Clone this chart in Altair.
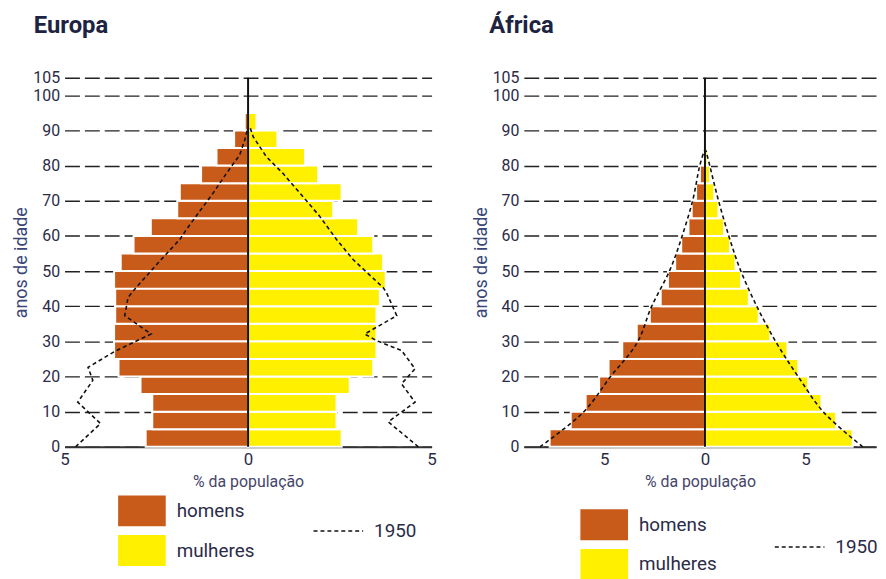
import altair as alt
import pandas as pd

FONT = "Roboto, Lato, sans-serif"
C_H = "#c95b1a"
C_M = "#fff000"

# ---------------- Europa ----------------
eu_age_start = [0, 5, 10, 15, 20, 25, 30, 35, 40, 45, 50, 55, 60, 65, 70, 75, 80, 85, 90]
eu_homens = [2.79, 2.61, 2.61, 2.93, 3.53, 3.65, 3.65, 3.62, 3.62, 3.65, 3.47, 3.12, 2.65, 1.93, 1.86, 1.28, 0.86, 0.38, 0.09]
eu_mulheres = [2.55, 2.41, 2.41, 2.77, 3.41, 3.50, 3.50, 3.50, 3.59, 3.75, 3.68, 3.41, 3.00, 2.32, 2.55, 1.91, 1.55, 0.80, 0.23]
eu_1950_age_h = [0, 6.6, 12.7, 18.9, 22.6, 27.1, 32.1, 37.3, 42.5, 45.3, 52.8, 59, 61.8, 67, 72.2, 77.8, 83, 87.3, 91]
eu_1950_h = [4.70, 4.02, 4.64, 4.23, 4.36, 3.64, 2.64, 3.36, 3.27, 3.05, 2.41, 1.86, 1.68, 1.32, 0.95, 0.59, 0.23, 0.09, 0.0]
eu_1950_age_m = [0, 7.1, 12.7, 17.9, 22.2, 27.4, 30.2, 32.1, 37.3, 43.9, 45.3, 53.3, 59, 65.6, 72.2, 77.8, 82.5, 88.2, 91]
eu_1950_m = [4.64, 3.82, 4.55, 4.18, 4.55, 4.18, 3.50, 3.18, 4.05, 3.77, 3.68, 2.86, 2.41, 1.95, 1.41, 0.95, 0.50, 0.14, 0.05]

# ---------------- África ----------------
af_age_start = [0, 5, 10, 15, 20, 25, 30, 35, 40, 45, 50, 55, 60, 65, 70, 75, 80]
af_homens = [7.72, 6.67, 5.93, 5.26, 4.79, 4.11, 3.39, 2.74, 2.20, 1.84, 1.48, 1.18, 0.82, 0.66, 0.44, 0.25, 0.08]
af_mulheres = [7.34, 6.52, 5.79, 5.13, 4.64, 4.10, 3.25, 2.67, 2.18, 1.79, 1.52, 1.25, 0.95, 0.67, 0.46, 0.25, 0.13]
af_1950_age = [0, 9.5, 19.9, 29.4, 39.8, 50.2, 59.7, 70.1, 79.5, 84.3]
af_1950_h = [8.2, 6.1, 4.7, 3.39, 2.66, 1.75, 1.15, 0.61, 0.28, 0.03]
af_1950_m = [7.84, 5.95, 4.64, 3.57, 2.59, 1.77, 1.20, 0.67, 0.26, 0.05]

y_ticks = [0, 10, 20, 30, 40, 50, 60, 70, 80, 90, 100, 105]
x_ticks = [-5, 0, 5]
sexos = ["homens", "mulheres"]

X_AXIS = alt.Axis(values=x_ticks, labelExpr="abs(datum.value)", ticks=False,
                  grid=False, domainColor="#333333", domainWidth=2,
                  labelFontSize=17, labelPadding=5, labelFlush=False,
                  labelColor="#2b2b48", labelFont=FONT,
                  titleFont=FONT, titleFontSize=16, titleFontWeight="normal",
                  titleColor="#45456a", titlePadding=6)
Y_AXIS = alt.Axis(values=y_ticks, ticks=False, domain=False, grid=True,
                  gridDash=[15, 5], gridColor="#222222", gridWidth=1.4,
                  labelFontSize=16, labelPadding=5, labelFlush=False,
                  labelOverlap=False, labelColor="#2b2b48", labelFont=FONT,
                  titleFont=FONT, titleFontSize=18, titleFontWeight="normal",
                  titleColor="#3a4677", titlePadding=2)


def panel(title, ages, homens, mulheres, age_h, line_h, age_m, line_m,
          xdom, width, interp, leg_c, leg_d, title_dx):
    rows = []
    for a, h, m in zip(ages, homens, mulheres):
        rows.append({"y": a, "y2": a + 5, "x": -h, "x0": 0, "sexo": "homens"})
        rows.append({"y": a, "y2": a + 5, "x": m, "x0": 0, "sexo": "mulheres"})
    bars_df = pd.DataFrame(rows)
    lrows = []
    for a, v in zip(age_h, line_h):
        lrows.append({"y": a, "x": -v, "sexo": "homens", "ano": "1950"})
    for a, v in zip(age_m, line_m):
        lrows.append({"y": a, "x": v, "sexo": "mulheres", "ano": "1950"})
    line_df = pd.DataFrame(lrows)
    zero_df = pd.DataFrame({"x": [0], "y": [0], "y2": [105]})

    xt = "% da população"
    yt = "anos de idade"
    xs = alt.Scale(domain=xdom, nice=False, zero=False)
    ys = alt.Scale(domain=[0, 105], nice=False)

    bars = alt.Chart(bars_df).mark_rect(stroke="white", strokeWidth=2).encode(
        x=alt.X("x:Q", title=xt, scale=xs, axis=X_AXIS),
        x2="x0:Q",
        y=alt.Y("y:Q", title=yt, scale=ys, axis=Y_AXIS),
        y2="y2:Q",
        color=alt.Color("sexo:N",
                        scale=alt.Scale(domain=sexos, range=[C_H, C_M]),
                        legend=alt.Legend(title=None, orient="none",
                                          legendX=leg_c[0], legendY=leg_c[1],
                                          symbolType="M-1,-0.65H1V0.65H-1Z",
                                          symbolSize=2304, symbolStrokeWidth=0,
                                          symbolOpacity=1,
                                          labelFontSize=19, labelFont=FONT,
                                          labelColor="#2b2b48", labelOffset=11,
                                          rowPadding=-4, padding=0)),
    )

    line = alt.Chart(line_df).mark_line(color="#111111", strokeWidth=1.6,
                                        interpolate=interp).encode(
        x=alt.X("x:Q", title=xt, scale=xs, axis=X_AXIS),
        y=alt.Y("y:Q", title=yt, scale=ys, axis=Y_AXIS),
        detail="sexo:N",
        order=alt.Order("y:Q"),
        strokeDash=alt.StrokeDash("ano:N",
                                  scale=alt.Scale(domain=["1950"], range=[[4, 3]]),
                                  legend=alt.Legend(title=None, orient="none",
                                                    legendX=leg_d[0], legendY=leg_d[1],
                                                    symbolType="stroke", symbolSize=2500,
                                                    symbolStrokeWidth=1.5,
                                                    symbolStrokeColor="#111111",
                                                    labelFontSize=19, labelFont=FONT,
                                                    labelColor="#2b2b48", labelOffset=10,
                                                    padding=0)),
    )

    rule = alt.Chart(zero_df).mark_rule(color="#111111", strokeWidth=2).encode(
        x=alt.X("x:Q", title=xt, scale=xs, axis=X_AXIS),
        y=alt.Y("y:Q", title=yt, scale=ys, axis=Y_AXIS),
        y2="y2:Q",
    )

    return alt.layer(bars, line, rule).properties(
        width=width, height=372,
        title=alt.TitleParams(title, anchor="start", fontSize=24, fontWeight="bold",
                              font=FONT, color="#1d2340", offset=32, dx=title_dx),
    )


eu = panel("Europa", eu_age_start, eu_homens, eu_mulheres,
           eu_1950_age_h, eu_1950_h, eu_1950_age_m, eu_1950_m,
           [-5, 5], 370, "linear", (54, 412.6), (250, 431), 21)
af = panel("África", af_age_start, af_homens, af_mulheres,
           af_1950_age, af_1950_h, af_1950_age, af_1950_m,
           [-9, 8.5], 355, "cardinal", (57, 426.6), (252, 447), 17)

chart = alt.hconcat(eu, af, spacing=36).resolve_scale(
    color="independent", strokeDash="independent", x="independent", y="independent"
).properties(
    padding={"left": 5, "top": 4, "right": 0, "bottom": 0},
    background="white",
).configure_view(stroke=None)

chart.save("out.html", embed_options={"renderer": "svg", "actions": False})
